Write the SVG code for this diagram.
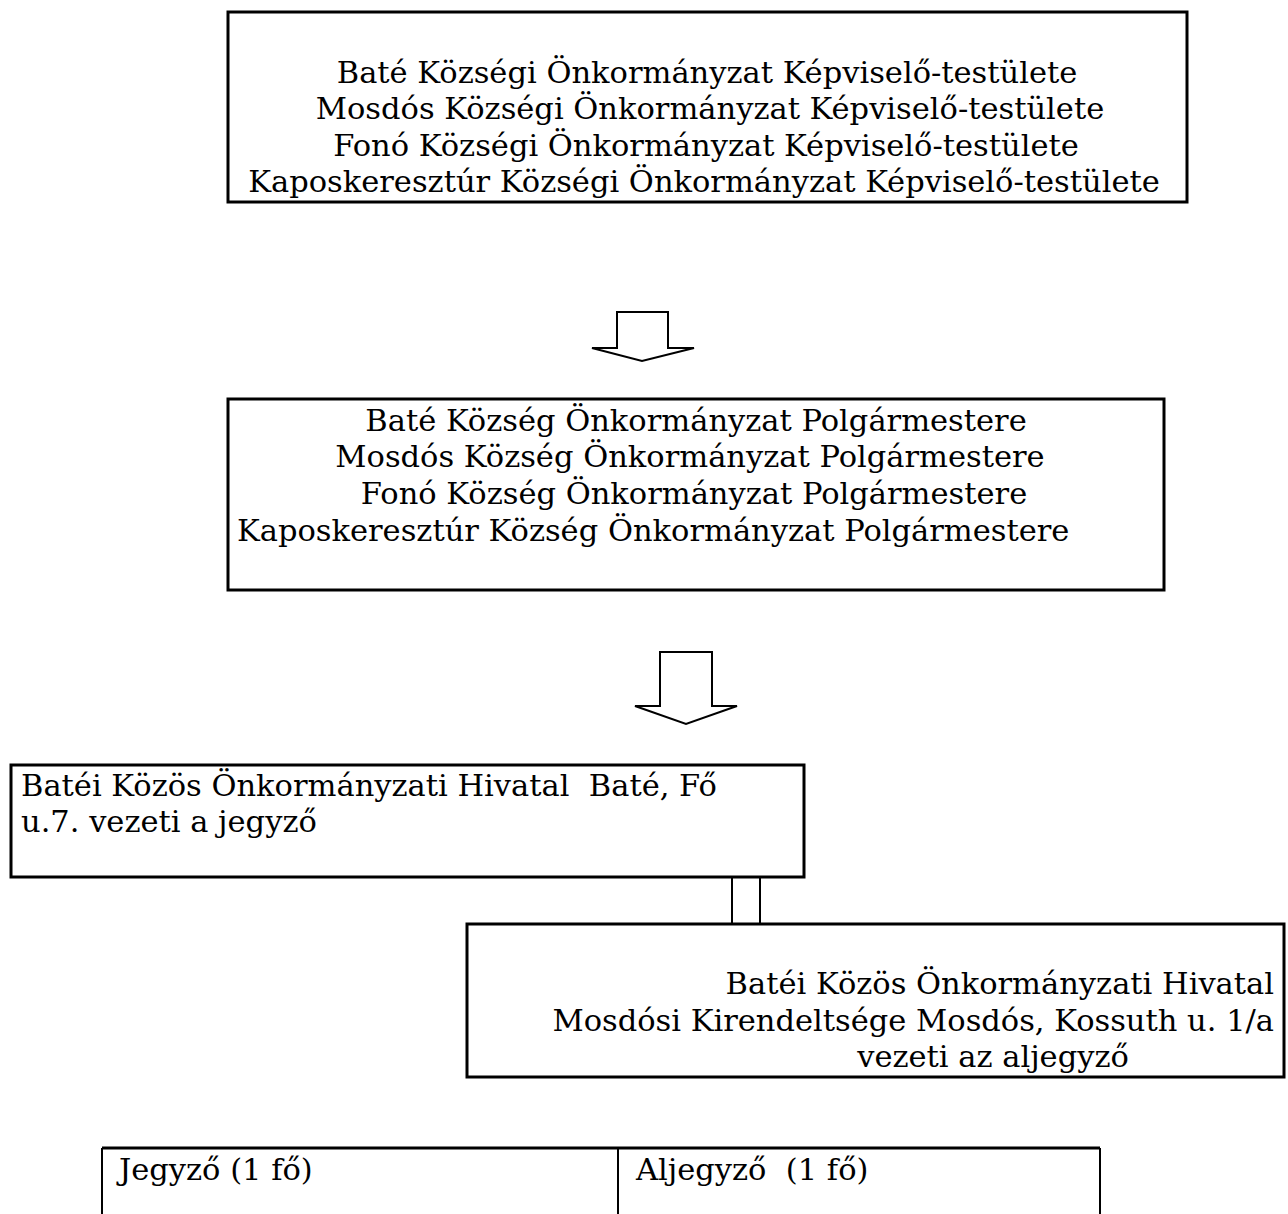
<svg xmlns="http://www.w3.org/2000/svg" width="1288" height="1214" viewBox="0 0 1288 1214">
<style>
.box{fill:#fff;stroke:#000;stroke-width:3}
.t{font-family:"DejaVu Serif","Liberation Serif",serif;font-size:30.5px;fill:#000;white-space:pre}
.c{text-anchor:middle}
.e{text-anchor:end}
.arrow{fill:#fff;stroke:#000;stroke-width:2;stroke-linejoin:miter}
.ln{stroke:#000;stroke-width:2;fill:none}
</style>
<rect width="1288" height="1214" fill="#fff"/>
<g id="connectors">
<polygon class="arrow" points="617,312 668,312 668,348 694,348 642,361 592,348 617,348"/>
<polygon class="arrow" points="660,652 712,652 712,706 737,706 686,724 635,706 660,706"/>
<line class="ln" x1="732" y1="877" x2="732" y2="924"/>
<line class="ln" x1="760" y1="877" x2="760" y2="924"/>
</g>
<g id="node-testulet">
<rect class="box" x="228" y="12" width="959" height="190"/>
<text class="t c" x="707" y="83">Baté Községi Önkormányzat Képviselő-testülete</text>
<text class="t c" x="710" y="119">Mosdós Községi Önkormányzat Képviselő-testülete</text>
<text class="t c" x="706" y="156">Fonó Községi Önkormányzat Képviselő-testülete</text>
<text class="t c" x="704" y="192">Kaposkeresztúr Községi Önkormányzat Képviselő-testülete</text>
</g>
<g id="node-polgarmester">
<rect class="box" x="228" y="399" width="936" height="191"/>
<text class="t c" x="696" y="431">Baté Község Önkormányzat Polgármestere</text>
<text class="t c" x="690" y="467">Mosdós Község Önkormányzat Polgármestere</text>
<text class="t c" x="694" y="504">Fonó Község Önkormányzat Polgármestere</text>
<text class="t" x="237" y="541">Kaposkeresztúr Község Önkormányzat Polgármestere</text>
</g>
<g id="node-hivatal">
<rect class="box" x="11" y="765" width="793" height="112"/>
<text class="t" x="21" y="796">Batéi Közös Önkormányzati Hivatal  Baté, Fő</text>
<text class="t" x="21" y="832">u.7. vezeti a jegyző</text>
</g>
<g id="node-kirendeltseg">
<rect class="box" x="467" y="924" width="817" height="153"/>
<text class="t e" x="1274" y="994">Batéi Közös Önkormányzati Hivatal</text>
<text class="t e" x="1274" y="1031">Mosdósi Kirendeltsége Mosdós, Kossuth u. 1/a</text>
<text class="t c" x="993" y="1067">vezeti az aljegyző</text>
</g>
<g id="node-table">
<line class="ln" x1="102" y1="1148" x2="1100" y2="1148" style="stroke-width:3"/>
<line class="ln" x1="102" y1="1148" x2="102" y2="1214"/>
<line class="ln" x1="618" y1="1148" x2="618" y2="1214"/>
<line class="ln" x1="1100" y1="1148" x2="1100" y2="1214"/>
<text class="t" x="119" y="1180">Jegyző (1 fő)</text>
<text class="t" x="636" y="1180">Aljegyző  (1 fő)</text>
</g>
</svg>
